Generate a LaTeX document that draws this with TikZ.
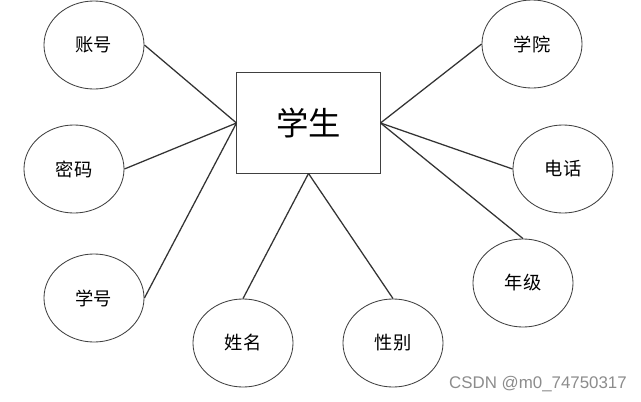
\documentclass[tikz,border=0pt]{standalone}
\usepackage{fontspec}
\setmainfont{Liberation Sans}
\newfontfamily\cjk{Noto Sans CJK SC}
\usetikzlibrary{shapes.geometric}

\begin{document}
\begin{tikzpicture}[x=0.025cm,y=-0.025cm,
        attr/.style={ellipse,draw=black!75,line width=0.6pt,minimum width=2.5cm,minimum height=2.2cm,inner sep=0pt,font=\cjk\fontsize{13}{13}\selectfont},
        entity/.style={rectangle,draw=black!75,line width=0.7pt,minimum width=3.575cm,minimum height=2.5cm,font=\cjk\fontsize{23}{23}\selectfont},
        link/.style={draw=black!80,line width=0.9pt}]

        % fix the page size
        \useasboundingbox (0,0) rectangle (641,402);

        % draw the entity
        \node[entity] (stu) at (308.5,123) {学生};

        % draw the attributes on the left
        \node[attr] (zh) at (94,45) {账号};
        \node[attr] (mm) at (74,169) {密码};
        \node[attr] (xh) at (94,298) {学号};

        % draw the attributes below
        \node[attr] (xm) at (243,343) {姓名};
        \node[attr] (xb) at (393,343) {性别};

        % draw the attributes on the right
        \node[attr] (xy) at (532,44) {学院};
        \node[attr] (dh) at (563,169) {电话};
        \node[attr] (nj) at (523,283) {年级};

        % connect entity and attributes
        \draw[link] (stu.west) -- (zh.east);
        \draw[link] (stu.west) -- (mm.east);
        \draw[link] (stu.west) -- (xh.east);
        \draw[link] (stu.south) -- (xm.north);
        \draw[link] (stu.south) -- (xb.north);
        \draw[link] (stu.east) -- (xy.west);
        \draw[link] (stu.east) -- (dh.west);
        \draw[link] (stu.east) -- (nj.north);

        % watermark
        \node[text=black!45,font=\fontsize{12}{12}\selectfont] (mark) at (538,384) {CSDN @m0\_74750317};

    \end{tikzpicture}
\end{document}
